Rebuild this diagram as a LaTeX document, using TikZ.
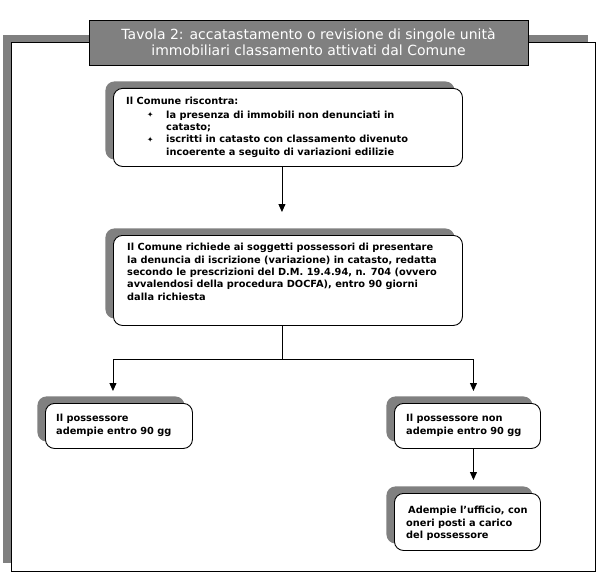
\documentclass[tikz,border=0pt]{standalone}
\usepackage{fontspec}
\setmainfont{DejaVu Sans}
\usetikzlibrary{arrows.meta,shadows}
\definecolor{sg}{HTML}{808080}
\newcommand{\bul}{{\fontsize{7.5}{7.5}\selectfont\raisebox{0.5pt}{✦}}}
\begin{document}
\begin{tikzpicture}[x=1pt,y=-1pt,
  box/.style={draw=black, fill=white, rounded corners=9pt, line width=0.9pt, anchor=north west, inner sep=0pt,
    general shadow={draw=none, fill=sg, shadow xshift=-8pt, shadow yshift=7pt}},
  txt/.style={anchor=north west, inner sep=0pt, align=left, font=\bfseries\fontsize{9.8}{12.4}\selectfont},
  ttl/.style={draw=black, fill=sg, line width=0.9pt, text=white, align=center, inner sep=0pt,
    minimum width=439pt, minimum height=45pt, font=\fontsize{14}{16}\selectfont},
  line/.style={line width=0.9pt},
  conn/.style={line width=0.9pt, -{Triangle[length=8pt,width=7pt]}},
  ]
\useasboundingbox (0,0) rectangle (600,578);
% outer frame
\fill[sg] (3,35) rectangle (588,563);
\draw[fill=white, line width=1pt] (11,43) rectangle (595,571);
% title
\node[ttl] (title) at (308.5,42.5) {Tavola 2: accatastamento o revisione di singole unità\\immobiliari classamento attivati dal Comune};
% boxes
\node[box, minimum width=349pt, minimum height=78pt] (b1) at (113,88) {};
\node[box, minimum width=349pt, minimum height=90pt] (b2) at (113,235) {};
\node[box, minimum width=147pt, minimum height=45pt] (bl) at (45,403) {};
\node[box, minimum width=146pt, minimum height=45pt] (br) at (394,403) {};
\node[box, minimum width=146pt, minimum height=57pt] (bb) at (394,493) {};
% texts
\node[txt] (t1) at (126,97) {Il Comune riscontra:\\[1pt]
\hspace*{21pt}\makebox[19pt][l]{\bul}la presenza di immobili non denunciati in\\
\hspace*{40pt}catasto;\\
\hspace*{21pt}\makebox[19pt][l]{\bul}iscritti in catasto con classamento divenuto\\
\hspace*{40pt}incoerente a seguito di variazioni edilizie};
\node[txt] (t2) at (127,243) {Il Comune richiede ai soggetti possessori di presentare\\
la denuncia di iscrizione (variazione) in catasto, redatta\\
secondo le prescrizioni del D.M. 19.4.94, n. 704 (ovvero\\
avvalendosi della procedura DOCFA), entro 90 giorni\\
dalla richiesta};
\node[txt] (tl) at (56,414) {Il possessore\\adempie entro 90 gg};
\node[txt] (tr) at (406,414) {Il possessore non\\adempie entro 90 gg};
\node[txt] (tb) at (406,506) {\hspace*{2pt}Adempie l’ufficio, con\\oneri posti a carico\\del possessore};
% connectors
\draw[conn, shorten >=23pt] ([xshift=-6pt]b1.south) -- ([xshift=-6pt]b1.south |- b2.north);
\coordinate (j) at ([xshift=-6pt]b2.south |- 0,359);
\draw[line] ([xshift=-6pt]b2.south) -- (j);
\draw[conn, shorten >=12pt] (j) -| ([xshift=-6pt]bl.north);
\draw[conn, shorten >=12pt] (j) -| ([xshift=6pt]br.north);
\draw[conn, shorten >=13pt] ([xshift=6pt]br.south) -- ([xshift=6pt]bb.north);
\end{tikzpicture}
\end{document}
